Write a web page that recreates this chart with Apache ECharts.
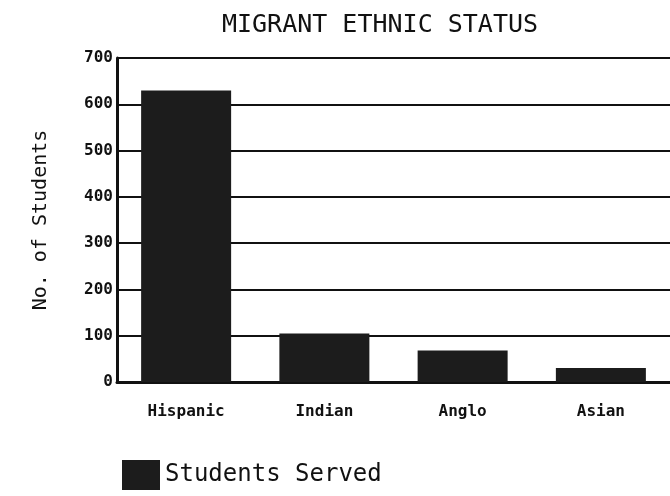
<!DOCTYPE html>
<html>
<head>
    <meta charset="utf-8">
    <title>Migrant Ethnic Status</title>
    <script src="https://cdn.jsdelivr.net/npm/echarts@6/dist/echarts.min.js"></script>
    <style>
        body { margin: 0; background: #fff; }
        #chart1 { width: 670px; height: 496px; }
    </style>
</head>
<body>
<div id="chart1"></div>
<script type="text/javascript">
    // data
    var groups = ['Hispanic', 'Indian', 'Anglo', 'Asian'];
    var studentsServed = [630, 105, 68, 30];
    var yTicks = [0, 100, 200, 300, 400, 500, 600, 700];

    var font = '"DejaVu Sans Mono", monospace';
    var myChart1 = echarts.init(document.getElementById('chart1'));

    myChart1.setOption({
        animation: false,
        title: {
            text: 'MIGRANT ETHNIC STATUS',
            left: 375,
            top: 8,
            textAlign: 'center',
            textStyle: { fontFamily: font, fontSize: 25, fontWeight: 'normal', color: '#111' }
        },
        legend: {
            data: ['Students Served'],
            left: 117,
            top: 455,
            icon: 'rect',
            itemWidth: 38,
            itemHeight: 30,
            itemGap: 14,
            textStyle: { fontFamily: font, fontSize: 24, color: '#111' }
        },
        grid: { left: 117, right: 0, top: 58, bottom: 114 },
        xAxis: {
            type: 'category',
            data: groups,
            axisLine: { lineStyle: { color: '#111', width: 3 } },
            axisTick: { show: false },
            axisLabel: { fontFamily: font, fontSize: 16, fontWeight: 'bold', color: '#111', margin: 22 }
        },
        yAxis: {
            type: 'value',
            min: yTicks[0],
            max: yTicks[yTicks.length - 1],
            interval: 100,
            name: 'No. of Students',
            nameLocation: 'middle',
            nameGap: 66,
            nameTextStyle: { fontFamily: font, fontSize: 20, color: '#111' },
            axisLine: { show: true, lineStyle: { color: '#111', width: 3 } },
            axisTick: { show: false },
            axisLabel: { fontFamily: font, fontSize: 16, fontWeight: 'bold', color: '#111', margin: 4 },
            splitLine: { show: true, lineStyle: { color: '#111', width: 2 } }
        },
        series: [{
            name: 'Students Served',
            type: 'bar',
            data: studentsServed,
            barWidth: 90,
            itemStyle: { color: '#1c1c1c' }
        }]
    });
</script>
</body>
</html>
